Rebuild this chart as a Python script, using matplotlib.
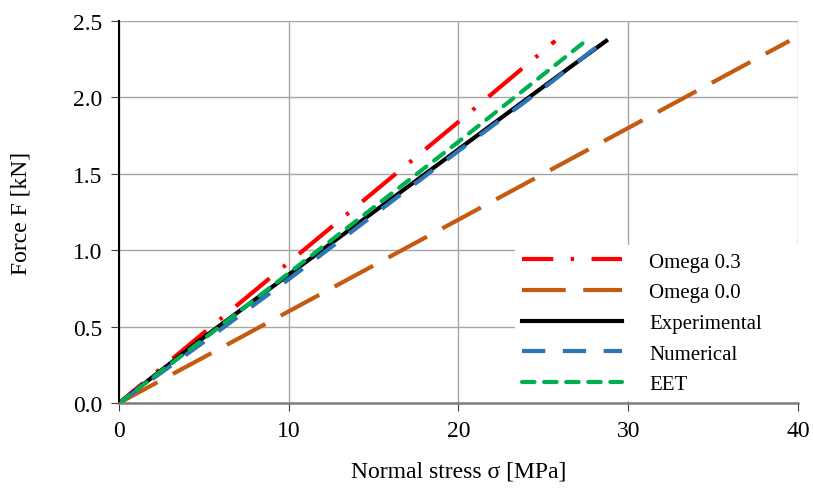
import matplotlib
matplotlib.use("Agg")
import matplotlib.pyplot as plt

plt.rcParams['font.family'] = ['Liberation Serif', 'DejaVu Serif']

# Data
omega03_x = [0.0, 5.0, 10.0, 15.0, 20.0, 25.7]
omega03_y = [0.0, 0.46, 0.92, 1.38, 1.84, 2.37]
omega00_x = [0.0, 10.0, 20.0, 30.0, 39.5]
omega00_y = [0.0, 0.60, 1.20, 1.80, 2.37]
exp_x = [0.0, 5.0, 10.0, 15.0, 20.0, 25.0, 28.7]
exp_y = [0.0, 0.43, 0.84, 1.25, 1.66, 2.07, 2.37]
num_x = [0.0, 5.0, 10.0, 15.0, 20.0, 25.0, 28.6]
num_y = [0.0, 0.40, 0.81, 1.23, 1.65, 2.06, 2.37]
eet_x = [0.0, 5.0, 10.0, 15.0, 20.0, 25.0, 27.5]
eet_y = [0.0, 0.42, 0.85, 1.28, 1.71, 2.15, 2.37]

labels = ["Omega 0.3", "Omega 0.0", "Experimental", "Numerical", "EET"]
x_ticks = [0, 10, 20, 30, 40]
y_ticks = [0.0, 0.5, 1.0, 1.5, 2.0, 2.5]

fig = plt.figure(figsize=(8.13, 4.89), dpi=100)
ax = fig.add_axes([0.1464, 0.1738, 0.8351, 0.7812])

lw = 3.0
ax.plot(omega00_x, omega00_y, color='#C55A11', lw=lw, linestyle=(0, (10.5, 4.2)), label=labels[1])
ax.plot(omega03_x, omega03_y, color='#FF0000', lw=lw, linestyle=(3, (10.5, 4.2, 0.8, 4.2)), label=labels[0])
ax.plot(exp_x, exp_y, color='black', lw=lw, label=labels[2])
ax.plot(num_x, num_y, color='#2E75B6', lw=lw, linestyle=(0, (5.6, 4.2)), label=labels[3])
ax.plot(eet_x, eet_y, color='#00B050', lw=lw, linestyle=(0, (3.0, 2.3)), dash_capstyle='round', label=labels[4])

ax.set_xlim(0, 40)
ax.set_ylim(0, 2.5)
ax.set_xticks(x_ticks)
ax.set_yticks(y_ticks)
ax.set_yticklabels([f"{v:.1f}" for v in y_ticks])
ax.grid(True, color='#a6a6a6', lw=1.0)
ax.set_axisbelow(True)
for s in ['top', 'right']:
    ax.spines[s].set_visible(False)
ax.spines['left'].set_linewidth(1.5)
ax.spines['left'].set_color('black')
ax.spines['bottom'].set_linewidth(1.8)
ax.spines['bottom'].set_color('#7f7f7f')
ax.spines['bottom'].set_zorder(10)
ax.tick_params(axis='y', labelsize=17, direction='out', length=6, color='#404040', pad=6)
ax.tick_params(axis='x', labelsize=17, direction='out', length=6, color='#404040', pad=6)

ax.set_xlabel("Normal stress σ [MPa]", fontsize=17, labelpad=14)
ax.set_ylabel("Force F [kN]", fontsize=17, labelpad=30)

handles, labs = ax.get_legend_handles_labels()
order = [labs.index(l) for l in labels]
leg = ax.legend([handles[i] for i in order], [labs[i] for i in order],
                loc='lower left', bbox_to_anchor=(0.5825, 0.004, 0.4175, 0.4),
                mode='expand', fontsize=15,
                frameon=True, facecolor='white', edgecolor='none', framealpha=1,
                fancybox=False, handlelength=4.8, handletextpad=1.3,
                labelspacing=0.53, borderaxespad=0.0, borderpad=0.35)

fig.savefig("out.png", dpi=100)
